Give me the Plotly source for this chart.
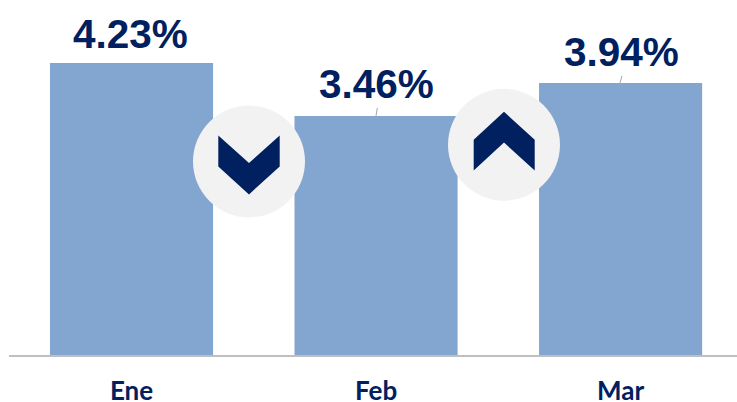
import plotly.graph_objects as go

categories = ["Ene", "Feb", "Mar"]
values = [4.23, 3.46, 3.94]
value_labels = ["4.23%", "3.46%", "3.94%"]
label_lift = [29, 32, 31]
label_nudge = [-1.5, 0.5, 1]

W, H = 737, 402
L, B_PX = 9, 355.5
NAVY, BAR, CIRCLE, AXIS, LEADER = "#002060", "#83A6D0", "#F2F2F2", "#BFBFBF", "#A6A6A6"


def px(x):
    return (x - L) / (W - L)


def py(y):
    return (B_PX - y) / B_PX


def path(points):
    return "M" + " L".join(f"{px(x):.5f},{py(y):.5f}" for x, y in points) + " Z"


def circle(cx, cy, r):
    return dict(type="circle", xref="paper", yref="paper", x0=px(cx - r), x1=px(cx + r),
                y0=py(cy + r), y1=py(cy - r), fillcolor=CIRCLE, line_width=0, layer="above")


def poly(points, color):
    return dict(type="path", xref="paper", yref="paper", path=path(points),
                fillcolor=color, line_width=0, layer="above")


def leader(x0, y0, x1, y1):
    return dict(type="line", xref="paper", yref="paper", x0=px(x0), y0=py(y0), x1=px(x1), y1=py(y1),
                line=dict(color=LEADER, width=1), layer="above")


fig = go.Figure(go.Bar(x=[0, 1, 2], y=values, marker=dict(color=BAR, line_width=0), width=0.667))

shapes = [
    circle(249, 161.7, 56),
    circle(504, 145, 56),
    poly([(218.3, 135.7), (249, 163.3), (279.7, 135.7), (279.7, 166.7), (249, 194.7), (218.3, 166.7)], NAVY),
    poly([(473.7, 140), (504, 112), (534.7, 140), (534.7, 170.7), (504, 142.7), (473.7, 170.7)], NAVY),
    leader(376, 116, 377.3, 108),
    leader(620, 83, 622, 76),
]

annotations = [
    dict(x=i, y=v, text=t, showarrow=False, xanchor="center", yanchor="middle", yshift=lift, xshift=nudge,
         font=dict(family="Liberation Sans", size=40.5, color=NAVY, weight="bold"))
    for i, (v, t, lift, nudge) in enumerate(zip(values, value_labels, label_lift, label_nudge))
]

fig.update_layout(
    width=W, height=H, margin=dict(l=L, r=0, t=0, b=H - B_PX), autosize=False,
    paper_bgcolor="white", plot_bgcolor="white", showlegend=False,
    shapes=shapes, annotations=annotations,
    xaxis=dict(range=[-0.501, 2.476], tickvals=[0, 1, 2], ticktext=categories, showgrid=False, zeroline=False,
               showline=True, linecolor=AXIS, linewidth=1.5, ticks="", ticklabelstandoff=12, automargin=False,
               tickfont=dict(family="Lato", size=26, color=NAVY, weight="bold")),
    yaxis=dict(range=[0, 355.5 / 69.15], visible=False, fixedrange=True, automargin=False),
)

fig.write_html("out.html", config={"displayModeBar": False},
               post_script="document.body.style.margin='0';document.body.style.overflow='hidden';")
